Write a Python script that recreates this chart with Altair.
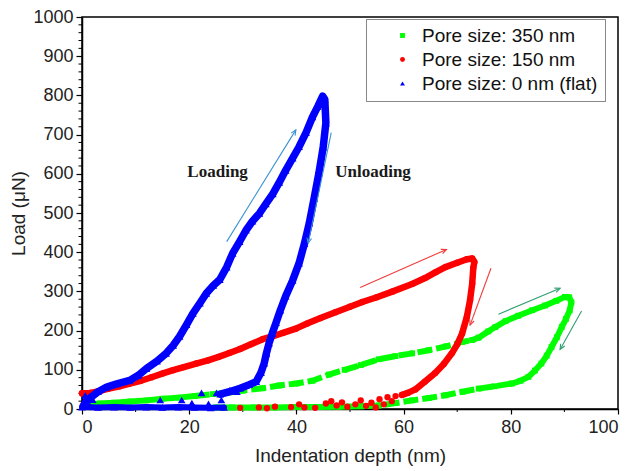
import math
import altair as alt
import pandas as pd

# ---------------- data ----------------
SERIES = ["Pore size: 350 nm", "Pore size: 150 nm", "Pore size: 0 nm (flat)"]

# Pore size 350 nm (green)
GREEN_LOAD_X = [0.5, 2.0, 3.3, 6.0, 9.0, 12.0, 15.0, 18.0, 21.0, 24.4, 27.5, 30.0, 33.7, 36.8, 40.0, 43.0,
                46.1, 49.0, 52.0, 55.4, 58.5, 61.6, 64.7, 68.0, 70.9, 72.8, 74.0, 75.8, 77.1, 79.0, 81.4,
                84.0, 86.4, 88.5, 90.1, 90.9]
GREEN_LOAD_Y = [8, 12, 14, 16, 19, 22, 26, 29, 33, 38, 42, 47, 53, 60, 65, 72,
                88, 100, 112, 127, 135, 142, 150, 160, 171, 176, 182, 198, 209, 224, 238,
                252, 264, 276, 286, 285]
GREEN_UNLOAD_X = [91.3, 91.0, 90.3, 89.5, 88.6, 87.6, 86.7, 85.7, 84.5, 83.3, 81.8, 80.2, 77.0, 74.0,
                  71.0, 67.8, 64.7, 61.6, 58.5, 55.4, 52.0, 48.0, 44.0, 40.0, 36.0, 32.0, 28.0, 25.0]
GREEN_UNLOAD_Y = [272, 252, 230, 209, 183, 158, 136, 116, 98, 82, 72, 65, 58, 52,
                  44, 35, 28, 22, 15, 9, 7, 6, 5, 5, 4, 4, 4, 4]

# Pore size 150 nm (red)
RED_LOAD_X = [0.0, 1.5, 3.0, 5.0, 7.0, 8.9, 11.0, 13.0, 15.1, 17.0, 19.0, 21.3, 23.5, 25.5, 27.5, 29.5,
              31.5, 33.7, 35.5, 37.5, 39.9, 42.0, 44.5, 47.3, 50.0, 52.3, 55.0, 58.0, 61.6, 64.0, 66.0,
              67.8, 70.0, 71.8, 72.8]
RED_LOAD_Y = [40, 41, 45, 52, 58, 65, 72, 81, 91, 99, 107, 116, 124, 133, 143, 153,
              165, 178, 185, 194, 205, 218, 232, 247, 261, 273, 285, 300, 319, 334, 349,
              362, 373, 382, 384]
RED_UNLOAD_X = [73.2, 73.0, 72.8, 72.4, 71.8, 70.9, 70.0, 69.0, 67.5, 65.9, 64.0, 62.2, 60.8, 59.7]
RED_UNLOAD_Y = [375, 360, 320, 278, 235, 192, 165, 142, 115, 92, 70, 50, 41, 36]
RED_SCATTER_X = [29.5, 33.0, 34.5, 36.0, 39.0, 40.5, 41.5, 43.5, 45.5, 46.5, 47.5, 48.5, 49.5, 51.0,
                 52.0, 53.0, 54.0, 54.8, 55.5, 56.3, 57.0, 57.8, 58.5]
RED_SCATTER_Y = [3, 4, 2, 6, 5, 12, 4, 3, 14, 20, 9, 17, 6, 12,
                 22, 8, 16, 4, 25, 12, 30, 20, 33]

# Pore size 0 nm, flat (blue)
BLUE_LOAD_X = [0.3, 0.8, 1.5, 3.0, 4.6, 6.5, 8.9, 10.5, 12.0, 14.0, 15.7, 17.0, 18.2, 19.5, 20.7, 22.0,
               23.2, 24.5, 25.7, 27.0, 28.1, 29.4, 30.6, 31.8, 33.1, 34.3, 35.6, 36.8, 38.0, 39.3, 40.5,
               41.8, 43.0, 44.0, 44.9]
BLUE_LOAD_Y = [10, 20, 28, 44, 56, 64, 73, 86, 103, 122, 142, 162, 185, 215, 244, 270,
               295, 315, 330, 362, 397, 427, 456, 479, 499, 523, 549, 578, 609, 640, 669,
               705, 745, 772, 798]
BLUE_UNLOAD_X = [45.3, 45.5, 45.0, 44.2, 43.3, 42.4, 41.5, 40.5, 39.3, 38.0, 37.0, 36.2, 35.5, 34.9,
                 34.4, 34.0, 33.4, 32.5, 31.2, 29.5, 27.5, 25.8]
BLUE_UNLOAD_Y = [790, 730, 668, 602, 537, 474, 422, 372, 328, 288, 252, 220, 193, 168,
                 142, 117, 93, 70, 62, 53, 44, 38]
BLUE_BASE_X = [0.0, 3.0, 6.0, 9.0, 12.0, 15.0, 18.0, 21.0, 24.0, 26.5]
BLUE_BASE_Y = [5, 4, 5, 4, 5, 4, 5, 4, 3, 4]
BLUE_SCATTER_X = [0.6, 1.2, 2.0, 14.6, 18.6, 20.5, 22.3, 23.6, 25.1, 26.0, 27.6, 28.9]
BLUE_SCATTER_Y = [35, 14, 24, 23, 23, 15, 41, 13, 41, 23, 48, 44]

# annotation arrows (start -> end, in data units)
ARROW_GROUP = ["blue", "blue", "red", "red", "green", "green"]
ARROW_X1 = [27.0, 46.5, 51.9, 76.3, 77.7, 93.2]
ARROW_Y1 = [427, 705, 310, 359, 242, 250]
ARROW_X2 = [39.9, 42.2, 68.0, 72.4, 89.2, 89.2]
ARROW_Y2 = [712, 423, 407, 214, 308, 152]

ANNOT_TEXT = ["Loading", "Unloading"]
ANNOT_X = [25.3, 54.3]
ANNOT_Y = [605, 605]

X_TICKS = [0, 20, 40, 60, 80, 100]
Y_TICKS = [0, 100, 200, 300, 400, 500, 600, 700, 800, 900, 1000]
X_MINOR = [10, 30, 50, 70, 90]
Y_MINOR = [v for v in range(0, 1001, 20) if v % 100]

# ---------------- styling ----------------
W, H = 536, 392
COLORS = ["#00ff00", "#ff0000", "#0000ff"]
SHAPES = ["square", "circle", "triangle-up"]
ARROW_COLORS = {"blue": "#3a92d2", "red": "#f03c3c", "green": "#2f9e70"}
FONT = "Liberation Sans"

xscale = alt.Scale(domain=[0, 100], nice=False, zero=False)
yscale = alt.Scale(domain=[0, 1000], nice=False, zero=False)
color_scale = alt.Scale(domain=SERIES, range=COLORS)
shape_scale = alt.Scale(domain=SERIES, range=SHAPES)

XAXIS = alt.Axis(values=X_TICKS, tickSize=5, labelPadding=4, titlePadding=10,
                 format="d", labelOverlap=False)
YAXIS = alt.Axis(values=Y_TICKS, tickSize=6, labelPadding=3, titlePadding=4,
                 format="d", labelOverlap=False)
XTITLE = "Indentation depth (nm)"
YTITLE = "Load (μN)"


def X(field):
    return alt.X(field, scale=xscale, axis=XAXIS, title=XTITLE)


def Y(field):
    return alt.Y(field, scale=yscale, axis=YAXIS, title=YTITLE)


legend = alt.Legend(
    title=None, orient="none", legendX=284, legendY=2,
    strokeColor="#888888", fillColor="white", padding=7,
    labelFont=FONT, labelFontSize=19, labelColor="#111111", labelLimit=0,
    symbolSize=24, symbolOffset=20, labelOffset=10, rowPadding=4,
    symbolStrokeWidth=0,
)


def frame(xs, ys, series, seg):
    return pd.DataFrame({"x": xs, "y": ys, "series": series, "seg": seg,
                         "order": list(range(len(xs)))})


def line_layer(xs, ys, color, width, dash=None):
    kw = dict(color=color, strokeWidth=width, strokeJoin="round")
    if dash:
        kw.update(strokeDash=dash, strokeCap="butt")
    else:
        kw.update(strokeCap="round")
    return alt.Chart(frame(xs, ys, "", "a")).mark_line(**kw).encode(
        x=X("x:Q"), y=Y("y:Q"), order="order:Q")


def point_layer(name, pieces, size):
    df = pd.concat([frame(px, py, name, "p") for px, py in pieces])
    return alt.Chart(df).mark_point(filled=True, size=size, opacity=1).encode(
        x=X("x:Q"), y=Y("y:Q"),
        color=alt.Color("series:N", scale=color_scale, legend=legend),
        shape=alt.Shape("series:N", scale=shape_scale, legend=legend))


# green: solid ends, broken (dashed-looking) middle sections as in the picture
gx = GREEN_LOAD_X + GREEN_UNLOAD_X
gy = GREEN_LOAD_Y + GREEN_UNLOAD_Y
cut = [0, 8, 25, 47, 55, len(gx)]
green_layers = []
for i in range(len(cut) - 1):
    a, b = cut[i], min(cut[i + 1] + 1, len(gx))
    dashed = i in (1, 3)
    green_layers.append(line_layer(gx[a:b], gy[a:b], COLORS[0], 6,
                                   dash=[15, 4] if dashed else None))
green_layers.append(point_layer(SERIES[0], [(gx, gy)], 34))

red_layers = [
    line_layer(RED_LOAD_X + RED_UNLOAD_X, RED_LOAD_Y + RED_UNLOAD_Y, COLORS[1], 6.5),
    point_layer(SERIES[1], [(RED_LOAD_X + RED_UNLOAD_X, RED_LOAD_Y + RED_UNLOAD_Y),
                            (RED_SCATTER_X, RED_SCATTER_Y)], 40),
]

blue_layers = [
    line_layer(BLUE_LOAD_X + BLUE_UNLOAD_X, BLUE_LOAD_Y + BLUE_UNLOAD_Y, COLORS[2], 7.5),
    line_layer(BLUE_BASE_X, BLUE_BASE_Y, COLORS[2], 6),
    point_layer(SERIES[2], [(BLUE_LOAD_X + BLUE_UNLOAD_X, BLUE_LOAD_Y + BLUE_UNLOAD_Y),
                            (BLUE_BASE_X, BLUE_BASE_Y),
                            (BLUE_SCATTER_X, BLUE_SCATTER_Y)], 60),
]

# minor ticks
yminor = alt.Chart(pd.DataFrame({"y": Y_MINOR})).mark_rule(color="black", strokeWidth=1).encode(
    y=Y("y:Q"), x=alt.value(0), x2=alt.value(-3.5))
xminor = alt.Chart(pd.DataFrame({"x": X_MINOR})).mark_rule(color="black", strokeWidth=1).encode(
    x=X("x:Q"), y=alt.value(H), y2=alt.value(H + 3))

# arrows
px_x, px_y = W / 100.0, H / 1000.0
angles = []
for x1, y1, x2, y2 in zip(ARROW_X1, ARROW_Y1, ARROW_X2, ARROW_Y2):
    dx = (x2 - x1) * px_x
    dy = -(y2 - y1) * px_y
    angles.append(math.degrees(math.atan2(dx, -dy)) % 360)
arrow_df = pd.DataFrame({"g": ARROW_GROUP, "x1": ARROW_X1, "y1": ARROW_Y1,
                         "x2": ARROW_X2, "y2": ARROW_Y2, "angle": angles})
arrow_color = alt.Color("g:N", scale=alt.Scale(domain=list(ARROW_COLORS),
                                               range=list(ARROW_COLORS.values())), legend=None)
shafts = alt.Chart(arrow_df).mark_rule(strokeWidth=1.1).encode(
    x=X("x1:Q"), y=Y("y1:Q"), x2="x2:Q", y2="y2:Q", color=arrow_color)
heads = alt.Chart(arrow_df).mark_point(shape="M-0.45,1L0,0L0.45,1", size=110, filled=False,
                                       strokeWidth=1.1, opacity=1).encode(
    x=X("x2:Q"), y=Y("y2:Q"),
    angle=alt.Angle("angle:Q", scale=None), color=arrow_color)

labels = alt.Chart(pd.DataFrame({"t": ANNOT_TEXT, "x": ANNOT_X, "y": ANNOT_Y})).mark_text(
    font="Liberation Serif", fontWeight="bold", fontSize=17, color="#1a1a1a").encode(
    x=X("x:Q"), y=Y("y:Q"), text="t:N")

chart = alt.layer(yminor, xminor, *green_layers, *red_layers, *blue_layers,
                  shafts, heads, labels).resolve_scale(
    color="independent", shape="independent"
).properties(
    width=W, height=H,
    autosize=alt.AutoSizeParams(type="none"),
    padding={"left": 74, "top": 9, "right": 6, "bottom": 60},
    background="white",
).configure_view(
    stroke="black", strokeWidth=1.5
).configure_axis(
    grid=False, domainColor="black", domainWidth=1.5, tickColor="black", tickWidth=1.2,
    labelFont=FONT, labelFontSize=18, labelColor="#222222",
    titleFont=FONT, titleFontSize=19, titleFontWeight="normal", titleColor="#222222",
)

chart.save("out.html", embed_options={"renderer": "svg", "actions": False})
